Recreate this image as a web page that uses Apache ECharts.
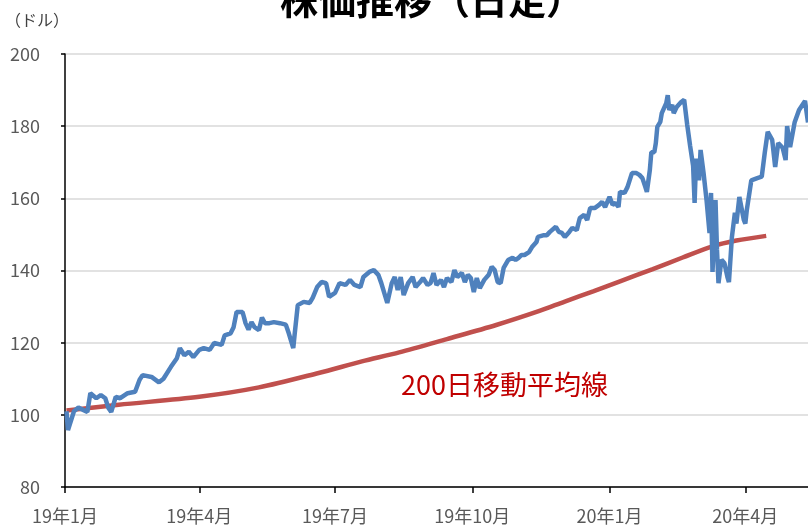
<!DOCTYPE html>
<html><head><meta charset="utf-8">
<script src="https://cdn.jsdelivr.net/npm/echarts@6/dist/echarts.min.js"></script>
<style>html,body{margin:0;padding:0;background:#fff}#c{width:808px;height:526px}</style>
</head><body><div id="c"></div>
<script>
const titleText = '株価推移（日足）';
const unitText = '（ドル）';
const maLabelText = '200日移動平均線';
const tickDates = ['2019-01-01','2019-04-01','2019-07-01','2019-10-01','2020-01-01','2020-04-01'];
const tickLabels = ['19年1月','19年4月','19年7月','19年10月','20年1月','20年4月'];
const xMinDate = '2019-01-01';
const xMaxDate = '2020-05-13';
const yMin = 80, yMax = 200, yStep = 20;

const priceDates = [
'2019-01-02','2019-01-03','2019-01-07','2019-01-10','2019-01-16','2019-01-18','2019-01-22','2019-01-25','2019-01-28','2019-01-30',
'2019-02-01','2019-02-04','2019-02-07','2019-02-12','2019-02-17','2019-02-20','2019-02-22','2019-02-28','2019-03-05','2019-03-08',
'2019-03-13','2019-03-17','2019-03-19','2019-03-22','2019-03-25','2019-03-28','2019-04-01','2019-04-04','2019-04-08','2019-04-11',
'2019-04-16','2019-04-18','2019-04-22','2019-04-24','2019-04-26','2019-04-30','2019-05-01','2019-05-02','2019-05-04','2019-05-06',
'2019-05-08','2019-05-11','2019-05-13','2019-05-15','2019-05-18','2019-05-21','2019-05-25','2019-05-29','2019-05-31','2019-06-03',
'2019-06-04','2019-06-06','2019-06-10','2019-06-14','2019-06-16','2019-06-19','2019-06-22','2019-06-25','2019-06-27','2019-07-01',
'2019-07-04','2019-07-08','2019-07-11','2019-07-14','2019-07-18','2019-07-20','2019-07-24','2019-07-27','2019-07-30','2019-08-01',
'2019-08-05','2019-08-08','2019-08-10','2019-08-12','2019-08-14','2019-08-16','2019-08-19','2019-08-22','2019-08-24','2019-08-27',
'2019-08-29','2019-09-01','2019-09-03','2019-09-05','2019-09-07','2019-09-10','2019-09-12','2019-09-14','2019-09-17','2019-09-19',
'2019-09-21','2019-09-24','2019-09-26','2019-09-28','2019-09-30','2019-10-02','2019-10-04','2019-10-06','2019-10-09','2019-10-12',
'2019-10-14','2019-10-16','2019-10-18','2019-10-20','2019-10-22','2019-10-25','2019-10-28','2019-10-30','2019-11-01','2019-11-03',
'2019-11-05','2019-11-08','2019-11-10','2019-11-13','2019-11-14','2019-11-18','2019-11-20','2019-11-22','2019-11-26','2019-11-28',
'2019-11-30','2019-12-02','2019-12-05','2019-12-07','2019-12-10','2019-12-12','2019-12-15','2019-12-17','2019-12-19','2019-12-22',
'2019-12-23','2019-12-25','2019-12-27','2019-12-29','2020-01-01','2020-01-03','2020-01-05','2020-01-07','2020-01-08','2020-01-11',
'2020-01-13','2020-01-14','2020-01-16','2020-01-19','2020-01-21','2020-01-23','2020-01-25','2020-01-26','2020-01-28','2020-01-29',
'2020-01-31','2020-02-01','2020-02-02','2020-02-04','2020-02-05','2020-02-06','2020-02-08','2020-02-09','2020-02-10','2020-02-12',
'2020-02-13','2020-02-15','2020-02-18','2020-02-20','2020-02-22','2020-02-24','2020-02-26','2020-02-27','2020-02-28','2020-03-01',
'2020-03-02','2020-03-04','2020-03-06','2020-03-08','2020-03-09','2020-03-10','2020-03-12','2020-03-13','2020-03-14','2020-03-16',
'2020-03-18','2020-03-20','2020-03-21','2020-03-23','2020-03-25','2020-03-26','2020-03-28','2020-03-31','2020-04-01','2020-04-02',
'2020-04-05','2020-04-09','2020-04-12','2020-04-14','2020-04-16','2020-04-19','2020-04-21','2020-04-23','2020-04-26','2020-04-28',
'2020-04-29','2020-05-01','2020-05-04','2020-05-07','2020-05-11','2020-05-13'
];
const priceValues = [
101.0,95.8,101.0,102.0,100.8,106.0,104.6,105.5,104.6,102.0,
100.8,105.0,104.6,106.0,106.4,109.7,111.0,110.5,109.0,110.0,
113.3,115.7,118.5,116.5,117.5,116.0,118.0,118.5,118.0,119.9,
119.4,122.0,122.6,124.3,128.5,128.5,127.0,125.4,123.6,125.7,
124.3,123.5,127.0,125.4,125.4,125.7,125.4,125.0,122.6,118.5,
122.6,130.4,131.3,131.0,132.4,135.4,136.8,136.5,132.7,133.8,
136.5,136.0,137.4,136.0,135.4,138.2,139.6,140.1,138.8,136.5,
131.0,136.5,138.2,134.6,138.2,133.2,136.5,138.2,135.4,136.8,
137.9,136.0,136.5,139.3,136.0,137.4,135.4,137.9,136.8,140.1,
138.2,139.3,136.8,138.8,137.9,134.0,137.9,135.1,137.4,138.8,
141.0,140.1,136.8,136.5,140.7,142.9,143.5,142.9,143.5,144.3,
144.3,145.1,146.5,147.9,149.3,149.8,149.8,150.7,152.1,150.7,
150.4,149.3,150.7,151.8,151.2,154.5,155.4,154.0,157.3,157.3,
156.8,158.2,159.0,157.6,160.4,158.2,158.7,157.6,161.8,161.5,
163.1,163.1,167.0,167.0,166.5,165.6,163.1,161.8,167.9,172.8,
172.8,175.3,179.8,181.2,183.6,184.0,186.4,188.6,184.5,185.9,
183.6,185.3,186.7,187.3,180.5,174.5,169.0,158.7,171.0,165.0,
173.4,167.0,159.5,150.4,161.5,139.6,159.5,145.7,136.5,143.0,
142.0,138.2,136.8,149.3,156.0,153.0,160.4,154.0,153.0,156.8,
165.0,165.6,166.0,172.6,178.4,176.2,168.7,175.3,174.0,170.6,
180.0,174.2,181.0,184.5,187.0,181.0
];

const maDates = ['2019-01-02','2019-02-06','2019-04-01','2019-05-11','2019-06-20','2019-07-19','2019-08-13','2019-09-14','2019-10-17','2019-11-15','2019-12-02','2019-12-21','2020-01-08','2020-01-30','2020-02-19','2020-03-10','2020-03-26','2020-04-15'];
const maValues = [101.2,102.8,105.0,107.6,111.6,114.8,117.3,121.0,124.9,128.8,131.4,134.2,137.0,140.4,143.6,146.7,148.3,149.6];

function ts(s){const p=s.split('-');return new Date(+p[0],+p[1]-1,+p[2]).getTime();}
const tickTs = tickDates.map(ts);
const font = '"Noto Sans CJK JP", "Noto Sans", sans-serif';

const chart = echarts.init(document.getElementById('c'), null, {renderer:'canvas'});
chart.setOption({
  animation:false,
  backgroundColor:'#fff',
  title:[
    {text:titleText,left:275,top:-24,textStyle:{fontFamily:font,fontSize:38,fontWeight:'bold',color:'#000'}},
    {text:unitText,left:0,top:7,textStyle:{fontFamily:font,fontSize:16,fontWeight:'normal',color:'#404040'}}
  ],
  grid:{left:65,right:0,top:54,bottom:39,containLabel:false},
  xAxis:{
    type:'value',min:ts(xMinDate),max:ts(xMaxDate),
    axisLine:{show:true,lineStyle:{color:'#000',width:1.5}},
    axisTick:{show:true,length:6,lineStyle:{color:'#000',width:1.5},customValues:tickTs},
    axisLabel:{customValues:tickTs,margin:20,fontFamily:font,fontSize:18,color:'#595959',
      formatter:function(v){const i=tickTs.indexOf(v);return i>=0?tickLabels[i]:'';}},
    splitLine:{show:false}
  },
  yAxis:{
    type:'value',min:yMin,max:yMax,interval:yStep,
    axisLine:{show:true,lineStyle:{color:'#000',width:1.5}},
    axisTick:{show:true,length:4,lineStyle:{color:'#000',width:1.5}},
    axisLabel:{margin:25,fontFamily:font,fontSize:18,color:'#595959'},
    splitLine:{show:true,lineStyle:{color:'#D9D9D9',width:1.5}}
  },
  graphic:[{type:'text',left:401,top:371,style:{text:maLabelText,font:'27px '+font,fill:'#C00000'}}],
  series:[
    {type:'line',name:'株価',data:priceDates.map((d,i)=>[ts(d),priceValues[i]]),showSymbol:false,
      lineStyle:{color:'#4F81BD',width:4.5},itemStyle:{color:'#4F81BD'},z:3},
    {type:'line',name:'200日移動平均線',data:maDates.map((d,i)=>[ts(d),maValues[i]]),showSymbol:false,smooth:0.3,
      lineStyle:{color:'#C0504D',width:4.5},itemStyle:{color:'#C0504D'},z:2}
  ]
});
</script></body></html>
